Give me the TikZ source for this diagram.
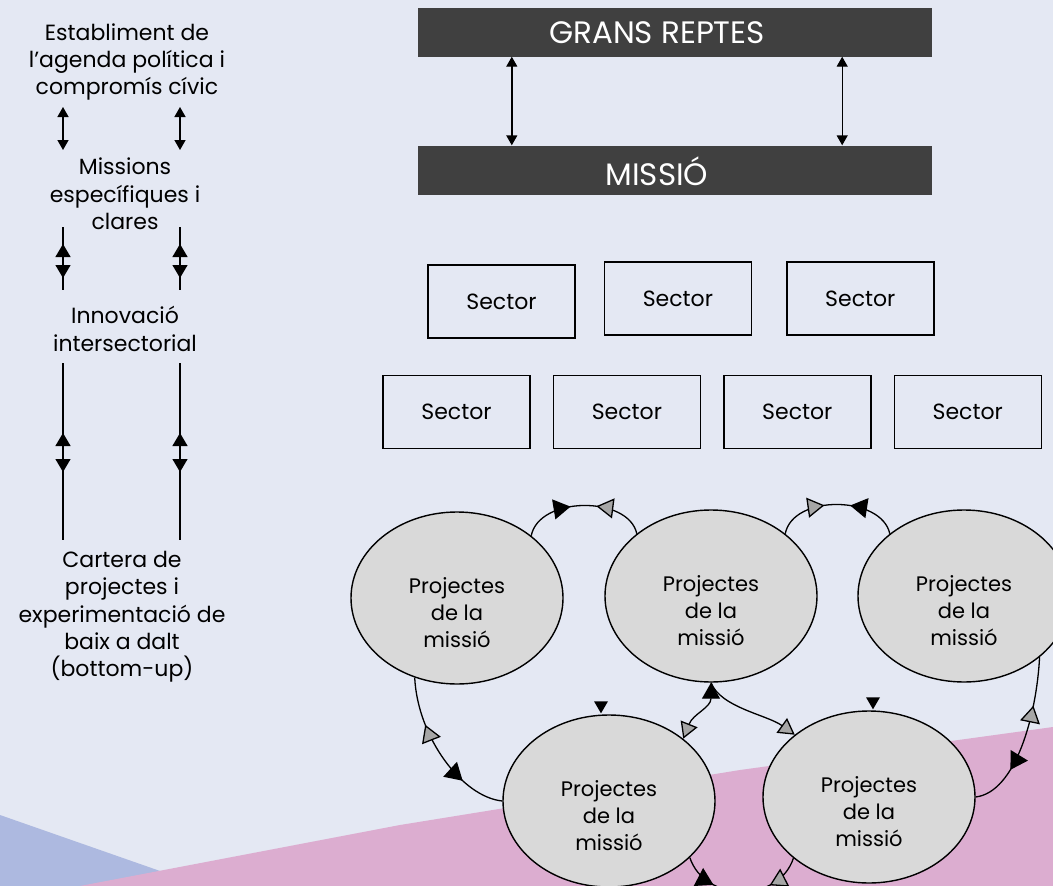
\documentclass[tikz,border=0pt]{standalone}
\usepackage{fontspec}
\setmainfont{Poppins}
\definecolor{bg}{HTML}{E4E8F3}
\definecolor{dark}{HTML}{404040}
\definecolor{lblue}{HTML}{ADB9E0}
\definecolor{lpink}{HTML}{DCADD0}
\definecolor{egray}{HTML}{D9D9D9}
\definecolor{tgray}{HTML}{A6A6A6}
\usetikzlibrary{positioning,calc,arrows.meta,shapes.geometric,decorations.markings}

\begin{document}
\begin{tikzpicture}
    [x=1pt,y=-1pt,
      band/.style={rectangle,fill=dark,minimum width=514pt,minimum height=49pt},
      bandtext/.style={text=white,xshift=-18pt,yshift=-1pt,font=\fontsize{31}{36}\selectfont},
      sec/.style={rectangle,draw,line width=1.4pt,minimum width=147pt,
        minimum height=73pt,font=\fontsize{22}{26}\selectfont},
      prj/.style={ellipse,draw,line width=1.4pt,fill=egray,minimum width=212pt,
        minimum height=172pt,inner sep=0pt,
        label={[ptext,yshift=-15pt]center:Projectes\\de la\\missió}},
      ptext/.style={align=center,font=\fontsize{21}{27}\selectfont},
      side/.style={align=center,font=\fontsize{22}{27.3}\selectfont},
      conn/.style={line width=1.3pt},
      dbl/.style={line width=1.4pt,{Triangle[width=11pt,length=10pt]}-{Triangle[width=11pt,length=10pt]}},
      mblk/.style={postaction={decorate,decoration={markings,
        mark=at position #1 with {\arrow{Triangle[width=20pt,length=17pt]}}}}},
      mblkr/.style={postaction={decorate,decoration={markings,
        mark=at position #1 with {\arrowreversed{Triangle[width=20pt,length=17pt]}}}}},
      mgry/.style={postaction={decorate,decoration={markings,
        mark=at position #1 with {\arrow{Triangle[width=20pt,length=17pt,fill=tgray]}}}}},
      mgryr/.style={postaction={decorate,decoration={markings,
        mark=at position #1 with {\arrowreversed{Triangle[width=20pt,length=17pt,fill=tgray]}}}}},
      lmk/.style={postaction={decorate,decoration={markings,
        mark=at position #1 with {\arrow{Triangle[width=15pt,length=13pt]}}}}},
      lmkr/.style={postaction={decorate,decoration={markings,
        mark=at position #1 with {\arrowreversed{Triangle[width=15pt,length=13pt]}}}}}]

  \useasboundingbox (0,0) rectangle (1053,886);
  \clip (0,0) rectangle (1053,886);

  % background
  \fill[bg] (0,0) rectangle (1053,886);
  \fill[lblue] (0,815) -- (203,886) -- (0,886) -- cycle;
  \fill[lpink] (80,886) -- (400,825) -- (740,770) -- (1053,727) -- (1053,886) -- cycle;

  % left column
  \node [side] (lt1) at (127,62) {Establiment de\\l’agenda política i\\compromís cívic};
  \node [side] (lt2) at (125,194) {Missions\\específiques i\\clares};
  \node [side] (lt3) at (125,329) {Innovació\\intersectorial};
  \node [side] (lt4) at (122,617) {Cartera de\\projectes i\\experimentació de\\baix a dalt\\(bottom-up)};

  \foreach \x in {63,180} {
    \coordinate (s1) at (\x,107);
    \coordinate (e1) at (\x,150);
    \coordinate (s2) at (\x,227);
    \coordinate (e2) at (\x,290);
    \coordinate (s3) at (\x,363);
    \coordinate (e3) at (\x,540);
    \draw [dbl] (s1) -- (e1);
    \draw [conn,lmkr=17pt,lmk=51pt] (s2) -- (e2);
    \draw [conn,lmkr=70pt,lmk=109pt] (s3) -- (e3);
  }

  % top bands
  \node [band,label={[bandtext]center:GRANS REPTES}] (rep) at (675,32) {};
  \node [band,label={[bandtext]center:MISSIÓ}] (mis) at (675,170) {};
  \draw [dbl] ($(rep.south west)+(94,0)$) -- ($(mis.north west)+(94,0)$);
  \draw [dbl] ($(rep.south east)+(-90,0)$) -- ($(mis.north east)+(-90,0)$);

  % sectors
  \node [sec] (sec1) at (501.5,301.5) {Sector};
  \node [sec,right=28pt of sec1,yshift=3pt] (sec2) {Sector};
  \node [sec,right=34pt of sec2] (sec3) {Sector};
  \node [sec] (sec4) at (456.5,412) {Sector};
  \node [sec,right=22pt of sec4] (sec5) {Sector};
  \node [sec,right=22pt of sec5] (sec6) {Sector};
  \node [sec,right=22pt of sec6] (sec7) {Sector};

  % projects
  \node [prj] (prj1) at (457,598) {};
  \node [prj] (prj2) at (711,596) {};
  \node [prj] (prj3) at (964,596) {};
  \node [prj] (prj4) at (609,801) {};
  \node [prj] (prj5) at (869,797) {};

  \draw [conn,mblk=0.4,mgryr=0.6] (prj1.40) .. controls +(8,-40) and +(-8,-38) .. (prj2.140);
  \draw [conn,mgry=0.4,mblkr=0.6] (prj2.40) .. controls +(8,-40) and +(-8,-38) .. (prj3.140);
  \draw [conn,mgryr=0.3,mblk=0.72] (prj1.242) .. controls +(3,60) and +(-40,-4) .. (prj4.west);
  \draw [conn,mgryr=0.3,mblk=0.72] (prj3.321) .. controls +(-3,58) and +(40,-5) .. (prj5.east);
  \draw [conn,{Triangle[width=18pt,length=16pt]}-{Triangle[width=18pt,length=16pt,fill=tgray]}]
    (prj2.south) .. controls +(0,25) and +(10,-25) .. (prj4.40);
  \draw [conn,-{Triangle[width=18pt,length=16pt,fill=tgray]}]
    (prj2.south) .. controls +(10,25) and +(-28,-20) .. (prj5.140);
  \draw [conn,mblk=0.28,mgryr=0.72] (prj4.-35) .. controls +(15,45) and +(-15,45) .. (prj5.219);

  \fill ($(prj4.north)+(-8,-1)$) -- ++(-7,-12) -- ++(14,0) -- cycle;
  \fill ($(prj5.north)+(4,-1)$) -- ++(-7,-12) -- ++(14,0) -- cycle;
\end{tikzpicture}
\end{document}
